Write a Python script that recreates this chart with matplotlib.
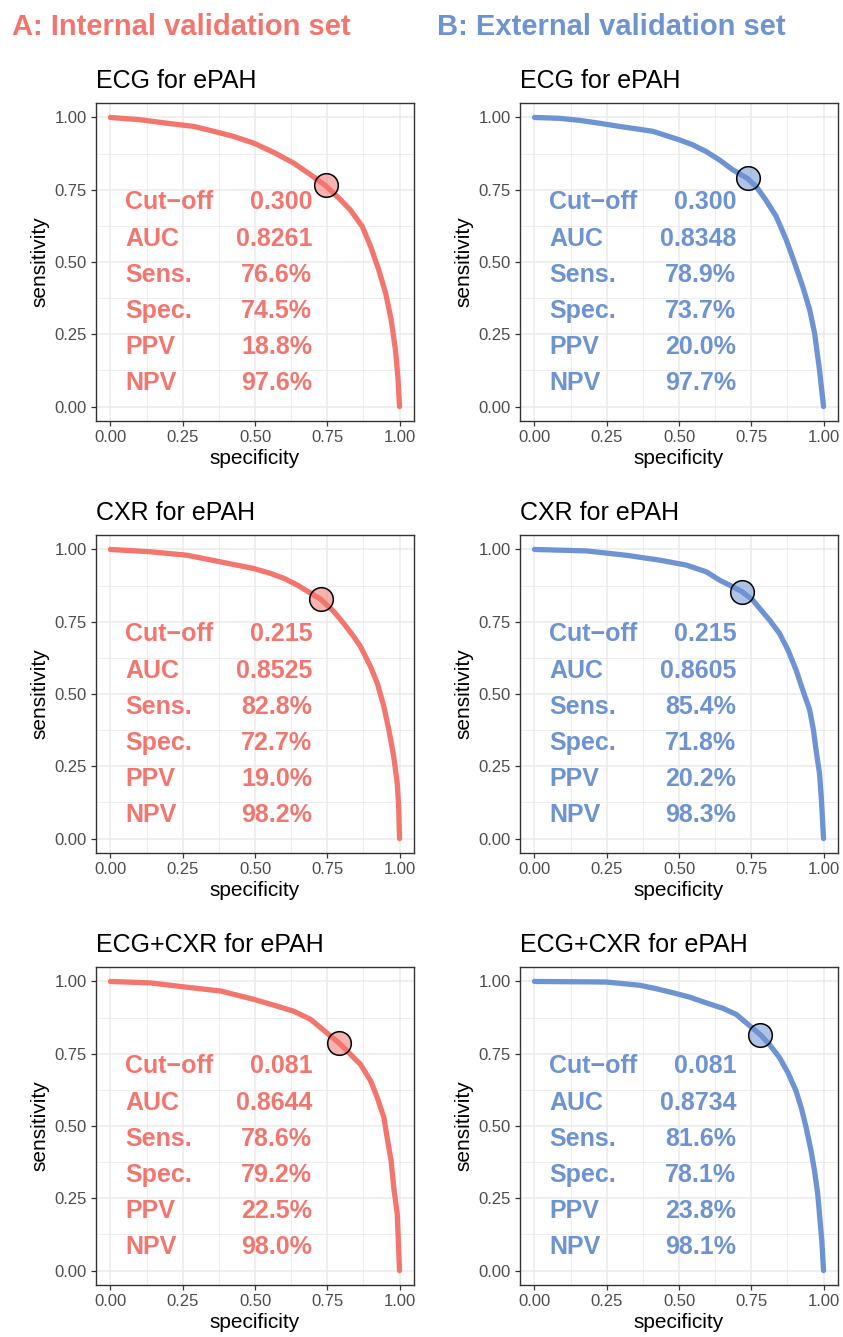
import matplotlib.pyplot as plt
from matplotlib.colors import to_rgba
from matplotlib.ticker import MultipleLocator

plt.rcParams["font.family"] = ["Liberation Sans", "DejaVu Sans"]

RED = "#F2766E"
BLUE = "#6D93D3"

# ROC curves: specificity (x) vs sensitivity (y)
ecg_int_spec = [0.0, 0.104, 0.196, 0.288, 0.358, 0.427, 0.496, 0.565, 0.634, 0.692, 0.744,
                0.79, 0.83, 0.871, 0.90, 0.928, 0.952, 0.971, 0.986, 0.995, 1.0]
ecg_int_sens = [1.0, 0.992, 0.98, 0.969, 0.952, 0.934, 0.911, 0.879, 0.842, 0.802, 0.764,
                0.721, 0.68, 0.623, 0.554, 0.473, 0.392, 0.30, 0.196, 0.092, 0.0]

ecg_ext_spec = [0.0, 0.087, 0.156, 0.225, 0.294, 0.41, 0.50, 0.548, 0.594, 0.64, 0.686, 0.737,
                0.767, 0.80, 0.836, 0.871, 0.90, 0.928, 0.952, 0.969, 0.986, 1.0]
ecg_ext_sens = [1.0, 0.997, 0.99, 0.98, 0.969, 0.952, 0.923, 0.905, 0.882, 0.853, 0.819, 0.789,
                0.761, 0.715, 0.658, 0.577, 0.496, 0.415, 0.335, 0.254, 0.127, 0.0]

cxr_int_spec = [0.0, 0.138, 0.265, 0.381, 0.496, 0.554, 0.60, 0.646, 0.727, 0.773, 0.807,
                0.842, 0.865, 0.90, 0.923, 0.946, 0.963, 0.98, 0.992, 0.997, 1.0]
cxr_int_sens = [1.0, 0.992, 0.98, 0.957, 0.934, 0.917, 0.90, 0.877, 0.828, 0.785, 0.744,
                0.698, 0.664, 0.594, 0.537, 0.456, 0.376, 0.283, 0.191, 0.11, 0.0]

cxr_ext_spec = [0.0, 0.179, 0.317, 0.433, 0.525, 0.594, 0.64, 0.686, 0.718, 0.755, 0.779,
                0.813, 0.848, 0.877, 0.905, 0.928, 0.952, 0.965, 0.975, 0.986, 0.992, 1.0]
cxr_ext_sens = [1.0, 0.995, 0.98, 0.963, 0.946, 0.923, 0.894, 0.871, 0.854, 0.825, 0.796,
                0.756, 0.709, 0.652, 0.583, 0.514, 0.445, 0.376, 0.30, 0.226, 0.145, 0.0]

both_int_spec = [0.0, 0.138, 0.265, 0.381, 0.496, 0.565, 0.634, 0.692, 0.727, 0.792, 0.83,
                 0.865, 0.90, 0.923, 0.946, 0.957, 0.971, 0.98, 0.992, 1.0]
both_int_sens = [1.0, 0.995, 0.98, 0.967, 0.938, 0.918, 0.897, 0.869, 0.84, 0.786, 0.748,
                 0.713, 0.656, 0.598, 0.529, 0.46, 0.379, 0.287, 0.195, 0.0]

both_ext_spec = [0.0, 0.133, 0.248, 0.363, 0.421, 0.479, 0.536, 0.594, 0.652, 0.698, 0.781,
                 0.813, 0.848, 0.877, 0.905, 0.923, 0.94, 0.957, 0.969, 0.98, 0.986, 0.994, 1.0]
both_ext_sens = [1.0, 0.999, 0.998, 0.987, 0.975, 0.961, 0.946, 0.926, 0.907, 0.886, 0.816,
                 0.782, 0.736, 0.684, 0.621, 0.563, 0.494, 0.413, 0.344, 0.264, 0.195, 0.103, 0.0]

titles = ["ECG for ePAH", "CXR for ePAH", "ECG+CXR for ePAH"]
stat_names = ["Cut\u2212off", "AUC", "Sens.", "Spec.", "PPV", "NPV"]

# stats per panel: cut-off, AUC, sens, spec, PPV, NPV
int_cutoff = ["0.300", "0.215", "0.081"]
int_auc = ["0.8261", "0.8525", "0.8644"]
int_sens = [76.6, 82.8, 78.6]
int_spec = [74.5, 72.7, 79.2]
int_ppv = [18.8, 19.0, 22.5]
int_npv = [97.6, 98.2, 98.0]

ext_cutoff = ["0.300", "0.215", "0.081"]
ext_auc = ["0.8348", "0.8605", "0.8734"]
ext_sens = [78.9, 85.4, 81.6]
ext_spec = [73.7, 71.8, 78.1]
ext_ppv = [20.0, 20.2, 23.8]
ext_npv = [97.7, 98.3, 98.1]

int_curves = [(ecg_int_spec, ecg_int_sens), (cxr_int_spec, cxr_int_sens), (both_int_spec, both_int_sens)]
ext_curves = [(ecg_ext_spec, ecg_ext_sens), (cxr_ext_spec, cxr_ext_sens), (both_ext_spec, both_ext_sens)]

W, H = 843, 1337
fig = plt.figure(figsize=(W / 100, H / 100), dpi=100)

fig.text(12 / W, 1 - 35 / H, "A: Internal validation set", color=RED,
         fontsize=21, fontweight="bold", ha="left", va="baseline")
fig.text(437 / W, 1 - 35 / H, "B: External validation set", color=BLUE,
         fontsize=21, fontweight="bold", ha="left", va="baseline")

col_left = [96, 520]
row_top = [103, 535, 967]
box = 318

groups = [
    (RED, int_curves, int_cutoff, int_auc, int_sens, int_spec, int_ppv, int_npv),
    (BLUE, ext_curves, ext_cutoff, ext_auc, ext_sens, ext_spec, ext_ppv, ext_npv),
]

for c, (color, curves, cut, auc, sens, spec, ppv, npv) in enumerate(groups):
    for r in range(3):
        ax = fig.add_axes([col_left[c] / W, 1 - (row_top[r] + box) / H, box / W, box / H])
        x, y = curves[r]
        ax.plot(x, y, color=color, lw=3.8, solid_capstyle="round",
                solid_joinstyle="round", zorder=3)
        ax.plot(spec[r] / 100, sens[r] / 100, "o", ms=17,
                mfc=to_rgba(color, 0.55), mec="black", mew=1.1, zorder=4)

        values = [cut[r], auc[r], f"{sens[r]:.1f}%", f"{spec[r]:.1f}%",
                  f"{ppv[r]:.1f}%", f"{npv[r]:.1f}%"]
        for i, (name, val) in enumerate(zip(stat_names, values)):
            ty = 0.706 - 0.125 * i
            ax.text(0.05, ty, name, color=color, fontsize=18, fontweight="bold",
                    ha="left", va="center", zorder=2)
            ax.text(0.698, ty, val, color=color, fontsize=18, fontweight="bold",
                    ha="right", va="center", zorder=2)

        ax.set_xlim(-0.05, 1.05)
        ax.set_ylim(-0.05, 1.05)
        ax.set_xticks([0, 0.25, 0.5, 0.75, 1.0])
        ax.set_yticks([0, 0.25, 0.5, 0.75, 1.0])
        ax.set_xticklabels(["0.00", "0.25", "0.50", "0.75", "1.00"])
        ax.set_yticklabels(["0.00", "0.25", "0.50", "0.75", "1.00"])
        ax.xaxis.set_minor_locator(MultipleLocator(0.125))
        ax.yaxis.set_minor_locator(MultipleLocator(0.125))
        ax.grid(which="major", color="#EBEBEB", lw=1.1, zorder=0)
        ax.grid(which="minor", color="#EBEBEB", lw=0.6, zorder=0)
        ax.set_axisbelow(True)
        ax.tick_params(which="major", length=3.5, width=0.9, color="#333333",
                       labelsize=12, labelcolor="#4D4D4D", pad=3)
        ax.tick_params(which="minor", length=0)
        for s in ax.spines.values():
            s.set_color("#333333")
            s.set_linewidth(1.0)

        ax.set_xlabel("specificity", fontsize=15, labelpad=3)
        ax.set_ylabel("sensitivity", fontsize=15, labelpad=4)
        ax.set_title(titles[r], loc="left", fontsize=18, pad=11)

fig.savefig("out.png", dpi=100)
